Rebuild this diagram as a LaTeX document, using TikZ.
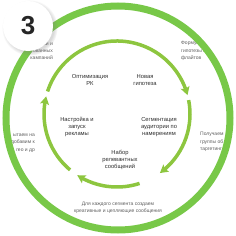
\documentclass[tikz,border=0pt]{standalone}
\usepackage{fontspec}
\setmainfont{Liberation Sans}
\usetikzlibrary{arrows.meta,bending,shadows}
\definecolor{ringgreen}{RGB}{120,200,72}
\definecolor{arcgreen}{RGB}{141,198,63}
\definecolor{labelgray}{RGB}{45,45,45}
\definecolor{notegray}{RGB}{95,95,95}
\tikzset{
	x=1pt, y=1pt,% one unit is one pixel of the original picture
	stage label/.style={align=center, text=labelgray, inner sep=0pt, font=\fontsize{5.8}{7}\selectfont}, % the five steps of the cycle
	side note/.style={text=notegray, inner sep=0pt, font=\fontsize{5}{7.3}\selectfont}, % grey notes near the big ring
	cycle arc/.style={arcgreen, line width=3.5pt, -{Stealth[length=8pt, width=9pt, inset=1.5pt]}}
}
\begin{document}
\begin{tikzpicture}
	\useasboundingbox (-118,-118) rectangle (118,118);
	% notes, cut off by the big ring
	\begin{scope}
		\clip (0,0) circle (112pt);
		\node[side note, anchor=east, align=right] (notetl) at (-65,67) {узки и\\ованных\\кампаний};
		\node[side note, anchor=west, align=left] (notetr) at (63,67) {Формул\\гипотезы и\\флайтов};
		\node[side note, anchor=east, align=right] (notel) at (-83,-25) {ытаем на\\добавим к\\, гео и др};
		\node[side note, anchor=west, align=left] (noter) at (82,-24) {Получаем\\группы об\\таргетинг};
		\node[side note, align=center] (noteb) at (0,-89.5) {Для каждого сегмента создаем\\креативные и цепляющие сообщения};
	\end{scope}
	\node[circle, draw=ringgreen, line width=7pt, minimum size=224pt] (ring) at (0,0) {};
	\node[circle, fill=white, minimum size=50pt, inner sep=0pt, text=black!85,
		font=\fontsize{26}{26}\selectfont\bfseries,
		circular drop shadow={shadow xshift=1.5pt, shadow yshift=-1.5pt, shadow scale=1.12, opacity=0.3}] (badge) at (-90,92) {3};
	% the cycle
	\coordinate (hub) at (-1,4);
	\path (hub) ++(162:73pt) coordinate (arca);
	\path (hub) ++(11:73pt) coordinate (arcb);
	\path (hub) ++(-72:73pt) coordinate (arcc);
	\path (hub) ++(-130:73pt) coordinate (arcd);
	\draw[cycle arc] (arca) arc[start angle=162, end angle=15, radius=73pt];
	\draw[cycle arc] (arcb) arc[start angle=11, end angle=-54, radius=73pt];
	\draw[cycle arc] (arcc) arc[start angle=-72, end angle=-123, radius=73pt];
	\draw[cycle arc] (arcd) arc[start angle=-130, end angle=-194, radius=73pt];
	\node[stage label] (optim) at (-28,38) {Оптимизация\\РК};
	\node[stage label] (hypo) at (27,38) {Новая\\гипотеза};
	\node[stage label] (setup) at (-41,-9) {Настройка и\\запуск\\рекламы};
	\node[stage label] (segm) at (41,-9) {Сегментация\\аудитории по\\намерениям};
	\node[stage label] (msgs) at (2,-42) {Набор\\релевантных\\сообщений};
\end{tikzpicture}
\end{document}
